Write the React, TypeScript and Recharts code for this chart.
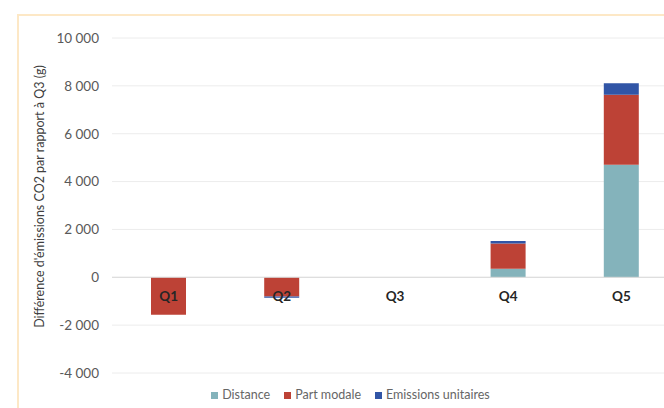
import { BarChart, Bar, XAxis, YAxis, CartesianGrid, Legend, ReferenceLine } from 'recharts';

const quintiles = ['Q1', 'Q2', 'Q3', 'Q4', 'Q5'];
const distance = [0, 0, 0, 360, 4700];
const partModale = [-1570, -800, 0, 1050, 2930];
const emissionsUnitaires = [0, -60, 0, 110, 480];
const yTicks = [-4000, -2000, 0, 2000, 4000, 6000, 8000, 10000];
const seriesOrder = ['Distance', 'Part modale', 'Emissions unitaires'];

const data = quintiles.map((q, i) => ({
  q,
  distance: distance[i],
  partModale: partModale[i],
  emissions: emissionsUnitaires[i],
}));

const font = 'Lato, "Open Sans", sans-serif';

const fmt = (v: number) => {
  const s = Math.abs(v).toString().replace(/\B(?=(\d{3})+(?!\d))/g, ' ');
  return v < 0 ? '-' + s : s;
};

// category labels sit on the zero line, not at the bottom of the plot
const QTick = ({ x, y, payload }: any) => (
  <text x={x} y={y} dy={-80} textAnchor="middle" fontFamily={font} fontSize={13.5} fontWeight={700} fill="#262626">
    {payload.value}
  </text>
);

export default function App() {
  return (
    <div style={{ position: 'absolute', left: 0, top: 0, width: 664, height: 408, overflow: 'hidden', background: '#fff' }}>
      <div style={{ position: 'absolute', left: 17, top: 14, width: 720, height: 440, border: '2px solid #fde8c6', boxSizing: 'border-box' }} />
      <div style={{ position: 'absolute', left: 0, top: 0 }}>
        <BarChart
          width={700}
          height={454}
          data={data}
          stackOffset="sign"
          barSize={35}
          margin={{ top: 38, right: 22, left: 52, bottom: 46 }}
        >
          <CartesianGrid vertical={false} stroke="#ececec" />
          <YAxis
            width={60}
            domain={[-4000, 10000]}
            ticks={yTicks}
            tickFormatter={fmt}
            axisLine={false}
            tickLine={false}
            tickMargin={7}
            tick={{ fontFamily: font, fontSize: 13.5, fill: '#595959' }}
            label={{
              value: "Différence d'émissions CO2 par rapport à Q3 (g)",
              angle: -90,
              position: 'center',
              dx: -42,
              dy: -9,
              style: { fontFamily: font, fontSize: 12.5, fill: '#404040' },
            }}
          />
          <ReferenceLine y={0} stroke="#d9d9d9" />
          <Bar dataKey="distance" name="Distance" stackId="a" fill="#84b3bb" isAnimationActive={false} />
          <Bar dataKey="partModale" name="Part modale" stackId="a" fill="#bd4236" isAnimationActive={false} />
          <Bar dataKey="emissions" name="Emissions unitaires" stackId="a" fill="#3155a6" isAnimationActive={false} />
          <XAxis dataKey="q" axisLine={false} tickLine={false} height={20} tick={<QTick />} />
          <Legend
            iconType="square"
            iconSize={7}
            itemSorter={(item: any) => seriesOrder.indexOf(item.value)}
            wrapperStyle={{ left: 200, width: 315, top: 387, fontFamily: font, fontSize: 12.5 }}
            formatter={(v: string) => <span style={{ color: '#666666', marginRight: 4 }}>{v}</span>}
          />
        </BarChart>
      </div>
    </div>
  );
}
